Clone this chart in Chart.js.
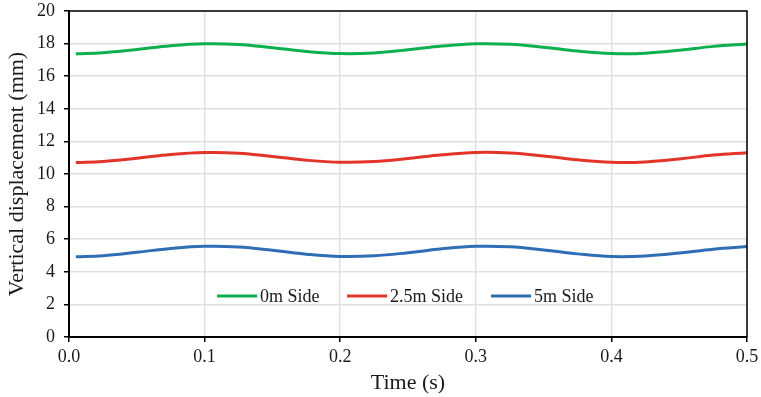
<!DOCTYPE html>
<html>
<head>
<meta charset="utf-8">
<script src="https://cdn.jsdelivr.net/npm/chart.js"></script>
<style>
  html, body { margin: 0; padding: 0; background: #fff; }
  #wrap { width: 761px; height: 397px; position: relative; }
</style>
</head>
<body>
<div id="wrap"><canvas id="chart"></canvas></div>
<script>
// Tempo (s) e deslocamento vertical (mm) em cada posição
const times = [0.005, 0.025, 0.05, 0.075, 0.1, 0.125, 0.15, 0.175, 0.2, 0.225, 0.25,
               0.275, 0.3, 0.325, 0.35, 0.375, 0.4, 0.425, 0.45, 0.475, 0.5];
const side0 = [17.38, 17.44, 17.64, 17.87, 17.99, 17.95, 17.75, 17.52, 17.39, 17.43, 17.62,
               17.85, 17.99, 17.96, 17.78, 17.54, 17.39, 17.41, 17.59, 17.83, 17.98];
const side25 = [10.71, 10.77, 10.97, 11.20, 11.32, 11.28, 11.08, 10.85, 10.72, 10.76, 10.95,
                11.18, 11.32, 11.29, 11.11, 10.87, 10.72, 10.74, 10.92, 11.16, 11.31];
const side5 = [4.93, 4.99, 5.20, 5.43, 5.56, 5.52, 5.32, 5.08, 4.94, 4.98, 5.17,
               5.41, 5.56, 5.53, 5.34, 5.10, 4.94, 4.97, 5.15, 5.39, 5.55];
const seriesLabels = ['0m Side', '2.5m Side', '5m Side'];
const seriesColors = ['#0db04f', '#e3342a', '#2f6eb5'];

const FONT = "'Liberation Serif', 'Times New Roman', serif";
const TEXT = '#1a1a1a';

function toPoints(values) {
    return values.map((v, i) => ({ x: times[i], y: v }));
}

// Moldura completa em volta da área do gráfico
const frame = {
    id: 'frame',
    afterDraw(chart) {
        const { ctx, chartArea: a } = chart;
        ctx.save();
        ctx.strokeStyle = '#000';
        ctx.lineWidth = 1.5;
        ctx.beginPath();
        ctx.moveTo(a.left, a.top);
        ctx.lineTo(a.right, a.top);
        ctx.lineTo(a.right, a.bottom);
        ctx.stroke();
        ctx.restore();
    }
};

// Legenda desenhada dentro da área do gráfico
const innerLegend = {
    id: 'innerLegend',
    afterDraw(chart) {
        const { ctx } = chart;
        const y = 296;
        const starts = [217, 347, 491];
        ctx.save();
        ctx.font = '18px ' + FONT;
        ctx.textBaseline = 'middle';
        chart.data.datasets.forEach((ds, i) => {
            const x = starts[i];
            ctx.strokeStyle = ds.borderColor;
            ctx.lineWidth = 3;
            ctx.beginPath();
            ctx.moveTo(x, y);
            ctx.lineTo(x + 40, y);
            ctx.stroke();
            ctx.fillStyle = TEXT;
            ctx.fillText(ds.label, x + 43, y + 1);
        });
        ctx.restore();
    }
};

const datasets = [side0, side25, side5].map((vals, i) => ({
    label: seriesLabels[i],
    data: toPoints(vals),
    borderColor: seriesColors[i],
    backgroundColor: seriesColors[i],
    borderWidth: 3,
    pointRadius: 0,
    tension: 0.4,
    fill: false
}));

new Chart(document.getElementById('chart'), {
    type: 'line',
    data: { datasets },
    plugins: [frame, innerLegend],
    options: {
        responsive: true,
        maintainAspectRatio: false,
        animation: false,
        layout: { padding: { top: 11, right: 14, left: 0, bottom: 0 } },
        plugins: {
            legend: { display: false },
            tooltip: { enabled: false }
        },
        scales: {
            x: {
                type: 'linear',
                min: 0,
                max: 0.5,
                border: { color: '#000', width: 2 },
                grid: { color: '#e0e0e0', lineWidth: 1.5, tickColor: '#000', tickLength: 5 },
                ticks: {
                    stepSize: 0.1,
                    color: TEXT,
                    font: { family: FONT, size: 18 },
                    padding: 4,
                    maxRotation: 0,
                    callback: v => v.toFixed(1)
                },
                title: {
                    display: true,
                    text: 'Time (s)',
                    color: TEXT,
                    font: { family: FONT, size: 22 },
                    padding: { top: 0, bottom: 1 }
                },
                afterFit: s => {
                    s.height = 60;
                    s.paddingLeft = 0;
                    s.paddingRight = 0;
                }
            },
            y: {
                min: 0,
                max: 20,
                border: { color: '#000', width: 2 },
                grid: { color: '#e0e0e0', lineWidth: 1.5, tickColor: '#000', tickLength: 5 },
                ticks: {
                    stepSize: 2,
                    color: TEXT,
                    font: { family: FONT, size: 18 },
                    padding: 9
                },
                title: {
                    display: true,
                    text: 'Vertical displacement (mm)',
                    color: TEXT,
                    font: { family: FONT, size: 22 },
                    padding: { top: 4, bottom: 0 }
                },
                afterFit: s => {
                    s.width = 69;
                    s.paddingTop = 0;
                    s.paddingBottom = 0;
                }
            }
        }
    }
});
</script>
</body>
</html>
